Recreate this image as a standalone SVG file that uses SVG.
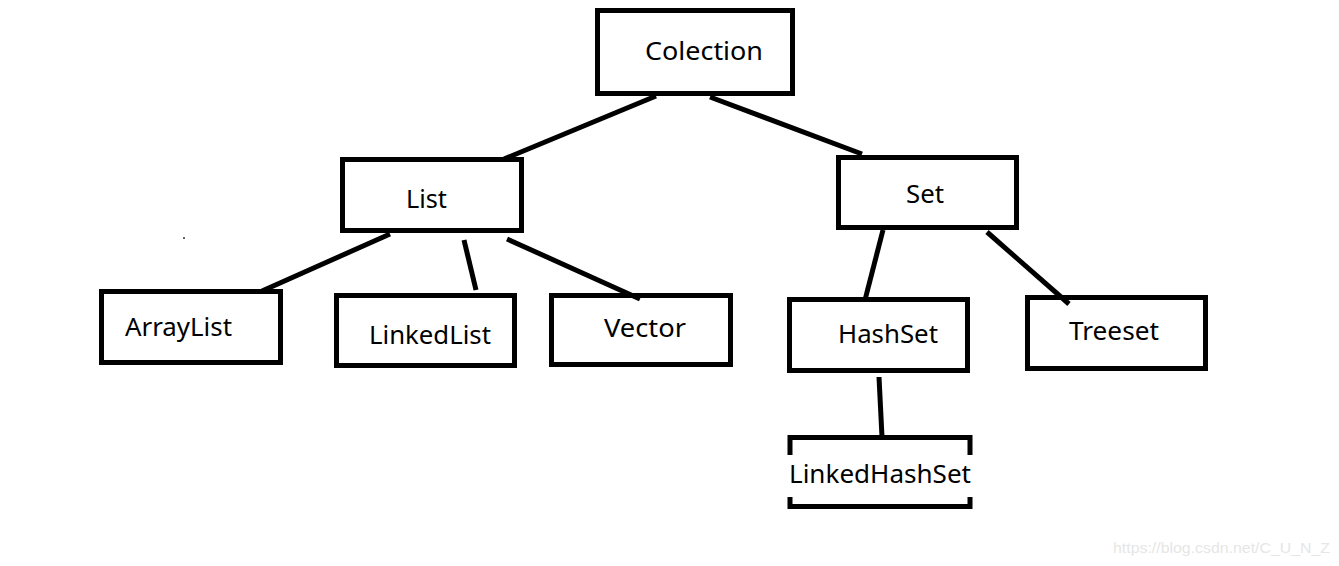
<svg xmlns="http://www.w3.org/2000/svg" width="1339" height="566" viewBox="0 0 1339 566">
<style>
.box{fill:none;stroke:#000;stroke-width:5}
.lbl{font-family:"Noto Sans","Open Sans",sans-serif;font-size:25px;fill:#000}
.edge{stroke:#000;stroke-width:5;stroke-linecap:butt;fill:none}
.wm{font-family:"Liberation Sans",Arial,sans-serif;font-size:15px;fill:#e6e6e6}
</style>
<rect width="1339" height="566" fill="#fff"/>
<g id="connectors">
<line class="edge" x1="656" y1="96" x2="504" y2="159"/>
<line class="edge" x1="710" y1="97" x2="862" y2="154"/>
<line class="edge" x1="390" y1="234" x2="262" y2="291"/>
<line class="edge" x1="464" y1="240" x2="476" y2="290"/>
<line class="edge" x1="507" y1="239" x2="640" y2="299"/>
<line class="edge" x1="883" y1="230" x2="865" y2="300"/>
<line class="edge" x1="987" y1="232" x2="1069" y2="304"/>
<line class="edge" x1="879" y1="377" x2="882" y2="437"/>
</g>
<g id="node-colection">
<rect class="box" x="597.5" y="10.5" width="195" height="83"/>
<text class="lbl" x="645" y="60" textLength="118" lengthAdjust="spacingAndGlyphs">Colection</text>
</g>
<g id="node-list">
<rect class="box" x="342.5" y="159.5" width="179" height="71"/>
<text class="lbl" x="406" y="208" textLength="41" lengthAdjust="spacingAndGlyphs">List</text>
</g>
<g id="node-set">
<rect class="box" x="838.5" y="157.5" width="178" height="70"/>
<text class="lbl" x="906" y="203" textLength="38" lengthAdjust="spacingAndGlyphs">Set</text>
</g>
<g id="node-arraylist">
<rect class="box" x="101.5" y="291.5" width="179" height="71"/>
<text class="lbl" x="125" y="336" textLength="107" lengthAdjust="spacingAndGlyphs">ArrayList</text>
</g>
<g id="node-linkedlist">
<rect class="box" x="336.5" y="295.5" width="178" height="70"/>
<text class="lbl" x="369" y="344" textLength="122" lengthAdjust="spacingAndGlyphs">LinkedList</text>
</g>
<g id="node-vector">
<rect class="box" x="551.5" y="295.5" width="179" height="69"/>
<text class="lbl" x="604" y="337" textLength="82" lengthAdjust="spacingAndGlyphs">Vector</text>
</g>
<g id="node-hashset">
<rect class="box" x="789.5" y="299.5" width="178" height="71"/>
<text class="lbl" x="838" y="343" textLength="100" lengthAdjust="spacingAndGlyphs">HashSet</text>
</g>
<g id="node-treeset">
<rect class="box" x="1027.5" y="297.5" width="178" height="71"/>
<text class="lbl" x="1069" y="340" textLength="90" lengthAdjust="spacingAndGlyphs">Treeset</text>
</g>
<g id="node-linkedhashset">
<path class="box" d="M790,455 V437.5 H970 V455 M790,497 V506.5 H970 V497"/>
<text class="lbl" x="789" y="483" textLength="182" lengthAdjust="spacingAndGlyphs">LinkedHashSet</text>
</g>
<circle cx="184" cy="238" r="1" fill="#333"/>
<text class="wm" x="1113" y="553" textLength="217" lengthAdjust="spacingAndGlyphs">https://blog.csdn.net/C_U_N_Z</text>
</svg>
